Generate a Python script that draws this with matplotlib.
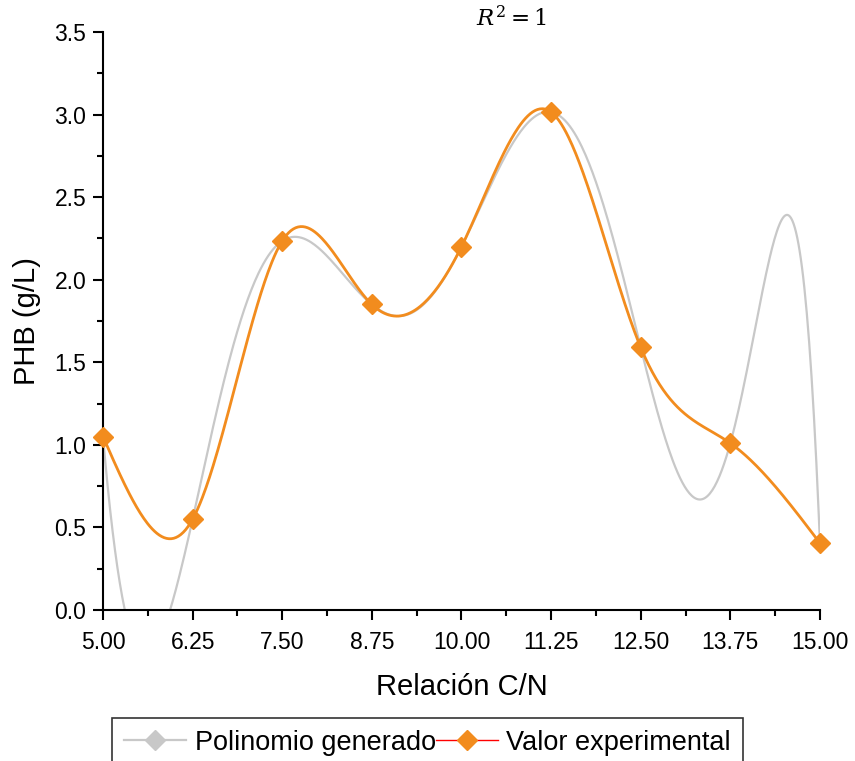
import numpy as np
import matplotlib
matplotlib.use("Agg")
import matplotlib.pyplot as plt
from matplotlib.lines import Line2D

# ==========================================================
# DATA
# ==========================================================

cn_ratio = [5.00, 6.25, 7.50, 8.75, 10.00, 11.25, 12.50, 13.75, 15.00]
phb = [1.05, 0.55, 2.235, 1.85, 2.20, 3.015, 1.59, 1.01, 0.405]
x_ticks = [5.00, 6.25, 7.50, 8.75, 10.00, 11.25, 12.50, 13.75, 15.00]
y_ticks = [0.0, 0.5, 1.0, 1.5, 2.0, 2.5, 3.0, 3.5]

ORANGE = "#F28C1E"
GRAY = "#C8C8C8"


# ==========================================================
# HELPERS
# ==========================================================

def natural_spline(x, y, xs):
    x = np.asarray(x, dtype=float)
    y = np.asarray(y, dtype=float)
    n = len(x)
    h = np.diff(x)
    A = np.zeros((n, n))
    b = np.zeros(n)
    A[0, 0] = 1.0
    A[-1, -1] = 1.0
    for i in range(1, n - 1):
        A[i, i - 1] = h[i - 1]
        A[i, i] = 2 * (h[i - 1] + h[i])
        A[i, i + 1] = h[i]
        b[i] = 3 * ((y[i + 1] - y[i]) / h[i] - (y[i] - y[i - 1]) / h[i - 1])
    c = np.linalg.solve(A, b)
    bb = (y[1:] - y[:-1]) / h - h * (2 * c[:-1] + c[1:]) / 3
    d = (c[1:] - c[:-1]) / (3 * h)
    idx = np.clip(np.searchsorted(x, xs) - 1, 0, n - 2)
    dx = xs - x[idx]
    return y[idx] + bb[idx] * dx + c[idx] * dx ** 2 + d[idx] * dx ** 3


# ==========================================================
# PLOT
# ==========================================================

plt.rcParams["font.family"] = ["Liberation Sans", "DejaVu Sans"]

fig = plt.figure(figsize=(8.55, 7.61), dpi=100)
ax = fig.add_axes([0.1205, 0.1984, 0.8385, 0.7596])

xs = np.linspace(cn_ratio[0], cn_ratio[-1], 600)
poly = np.polynomial.Polynomial.fit(cn_ratio, phb, len(cn_ratio) - 1)
ax.plot(xs, poly(xs), color=GRAY, lw=1.6, zorder=2)

ax.plot(xs, natural_spline(cn_ratio, phb, xs), color=ORANGE, lw=2.0, zorder=3)
ax.plot(cn_ratio, phb, ls="none", marker="D", ms=10, color=ORANGE,
        clip_on=False, zorder=4)

ax.set_xlim(5, 15)
ax.set_ylim(0, 3.5)
ax.set_xticks(x_ticks)
ax.set_xticklabels([f"{v:.2f}" for v in x_ticks])
ax.set_yticks(y_ticks)
ax.set_yticklabels([f"{v:.1f}" for v in y_ticks])
ax.set_xticks(np.arange(5.625, 15, 1.25), minor=True)
ax.set_yticks(np.arange(0.25, 3.5, 0.5), minor=True)

for side in ["top", "right"]:
    ax.spines[side].set_visible(False)
for side in ["left", "bottom"]:
    ax.spines[side].set_linewidth(1.5)
ax.tick_params(which="major", length=7, width=1.5, labelsize=16.5, pad=5)
ax.tick_params(axis="x", which="major", pad=8)
ax.tick_params(which="minor", length=4, width=1.5)

ax.set_xlabel("Relación C/N", fontsize=21, labelpad=14)
ax.set_ylabel("PHB (g/L)", fontsize=21, labelpad=10)

fig.text(0.598, 0.975, r"$R^2 = 1$", fontsize=16.5, ha="center", va="center",
         math_fontfamily="dejavuserif")

handles = [
    Line2D([0], [0], color=GRAY, lw=1.6, marker="D", ms=10, mfc=GRAY, mec=GRAY),
    Line2D([0], [0], color="red", lw=1.0, marker="D", ms=10, mfc=ORANGE, mec=ORANGE),
]
leg = fig.legend(handles, ["Polinomio generado", "Valor experimental"],
                 loc="upper left", bbox_to_anchor=(0.131, 0.057), ncol=2,
                 fontsize=19.5, frameon=True, fancybox=False, edgecolor="black",
                 handlelength=2.3, handletextpad=0.3, columnspacing=0.0,
                 borderpad=0.45, borderaxespad=0)
leg.get_frame().set_linewidth(1.2)

fig.savefig("out.png", dpi=100)
